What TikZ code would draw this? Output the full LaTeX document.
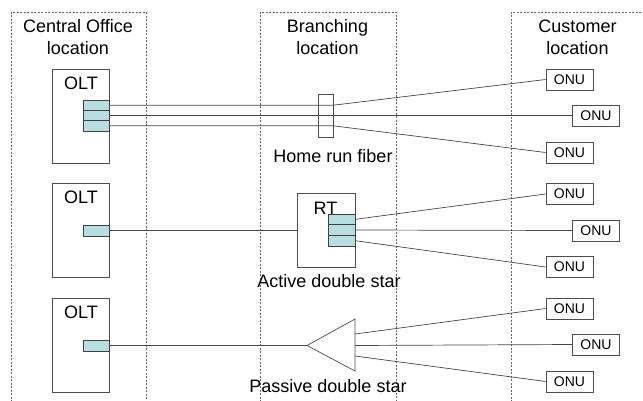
\documentclass[tikz,border=0pt]{standalone}
\usepackage{fontspec}
\setmainfont{Liberation Sans}
\definecolor{portc}{RGB}{183,221,225}
\definecolor{linec}{RGB}{70,70,70}
\begin{document}
\begin{tikzpicture}[x=1pt,y=-1pt,
  col/.style={draw=black!60, line width=0.6pt, dash pattern=on 2pt off 1.5pt},
  box/.style={draw=black!70, line width=0.7pt, inner sep=0pt},
  port/.style={draw=black!75, line width=0.7pt, fill=portc, inner sep=0pt},
  onu/.style={draw=black!70, line width=0.7pt, minimum width=47pt, minimum height=21pt, inner sep=0pt, font=\fontsize{14}{16}\selectfont},
  fib/.style={draw=linec, line width=0.7pt},
  lbl/.style={inner sep=0pt, font=\fontsize{18}{22}\selectfont}
]
\useasboundingbox (0,0) rectangle (643,400);
% columns
\draw[col] (11,402) -- (11,12) -- (146,12) -- (146,402);
\draw[col] (260,402) -- (260,12) -- (396,12) -- (396,402);
\draw[col] (511,402) -- (511,12) -- (646,12);
% titles
\node[lbl, align=center, anchor=north] (t1) at (78,19.5) {Central Office\\location};
\node[lbl, align=center, anchor=north] (t2) at (327.5,19.5) {Branching\\location};
\node[lbl, align=center, anchor=north] (t3) at (577.5,19.5) {Customer\\location};
% OLT boxes
\node[box, minimum width=57pt, minimum height=94pt] (olt1) at (80.5,116) {};
\node[box, minimum width=57pt, minimum height=94pt] (olt2) at (80.5,230) {};
\node[box, minimum width=57pt, minimum height=94pt] (olt3) at (80.5,345) {};
\node[lbl, anchor=base] (l1) at (81,89) {OLT};
\node[lbl, anchor=base] (l2) at (81,203) {OLT};
\node[lbl, anchor=base] (l3) at (81,318) {OLT};
% OLT ports
\node[port, minimum width=26pt, minimum height=10.3pt] (p11) at (96,105.2) {};
\node[port, minimum width=26pt, minimum height=10.3pt] (p12) at (96,115.5) {};
\node[port, minimum width=26pt, minimum height=10.3pt] (p13) at (96,125.8) {};
\node[port, minimum width=26pt, minimum height=11pt] (p2) at (96,230.5) {};
\node[port, minimum width=26pt, minimum height=11pt] (p3) at (96,345.5) {};
% ONUs
\node[onu] (o1) at (569.5,79.5) {ONU};
\node[onu] (o2) at (596,115.5) {ONU};
\node[onu] (o3) at (569.5,152.5) {ONU};
\node[onu] (o4) at (569.5,194) {ONU};
\node[onu] (o5) at (596,230.5) {ONU};
\node[onu] (o6) at (569.5,267) {ONU};
\node[onu] (o7) at (569.5,308.5) {ONU};
\node[onu] (o8) at (596,344.5) {ONU};
\node[onu] (o9) at (569.5,381.5) {ONU};
% Home run fiber
\node[box, minimum width=15pt, minimum height=43pt] (sp) at (325.5,115.5) {};
\draw[fib] (p11.east) -- (sp.east |- p11.east) -- (o1.west);
\draw[fib] (p12.east) -- (o2.west);
\draw[fib] (p13.east) -- (sp.east |- p13.east) -- (o3.west);
\node[lbl, anchor=base] (hr) at (333,162) {Home run fiber};
% Active double star
\node[box, minimum width=58pt, minimum height=73.5pt] (rt) at (326,230.25) {};
\node[lbl, anchor=base] (rtl) at (325.5,214) {RT};
\node[port, minimum width=27pt, minimum height=10.67pt] (r1) at (341.5,219.3) {};
\node[port, minimum width=27pt, minimum height=10.67pt] (r2) at (341.5,230) {};
\node[port, minimum width=27pt, minimum height=10.67pt] (r3) at (341.5,240.7) {};
\draw[fib] (p2.east) -- (p2.east -| rt.west);
\draw[fib] (r1.east) -- (o4.west);
\draw[fib] (r2.east) -- (o5.west);
\draw[fib] (r3.east) -- (o6.west);
\node[lbl, anchor=base] (ads) at (329,287) {Active double star};
% Passive double star
\coordinate (apex) at (307,345.5);
\coordinate (tb1) at (355,319);
\coordinate (tb2) at (355,371);
\coordinate (ta) at (355,334);
\coordinate (tm) at (355,345.5);
\coordinate (tc) at (355,356);
\draw[box] (apex) -- (tb1) -- (tb2) -- cycle;
\draw[fib] (p3.east) -- (apex);
\draw[fib] (ta) -- (o7.west);
\draw[fib] (tm) -- (o8.west);
\draw[fib] (tc) -- (o9.west);
\node[lbl, anchor=base] (pds) at (328,392) {Passive double star};
\end{tikzpicture}
\end{document}
